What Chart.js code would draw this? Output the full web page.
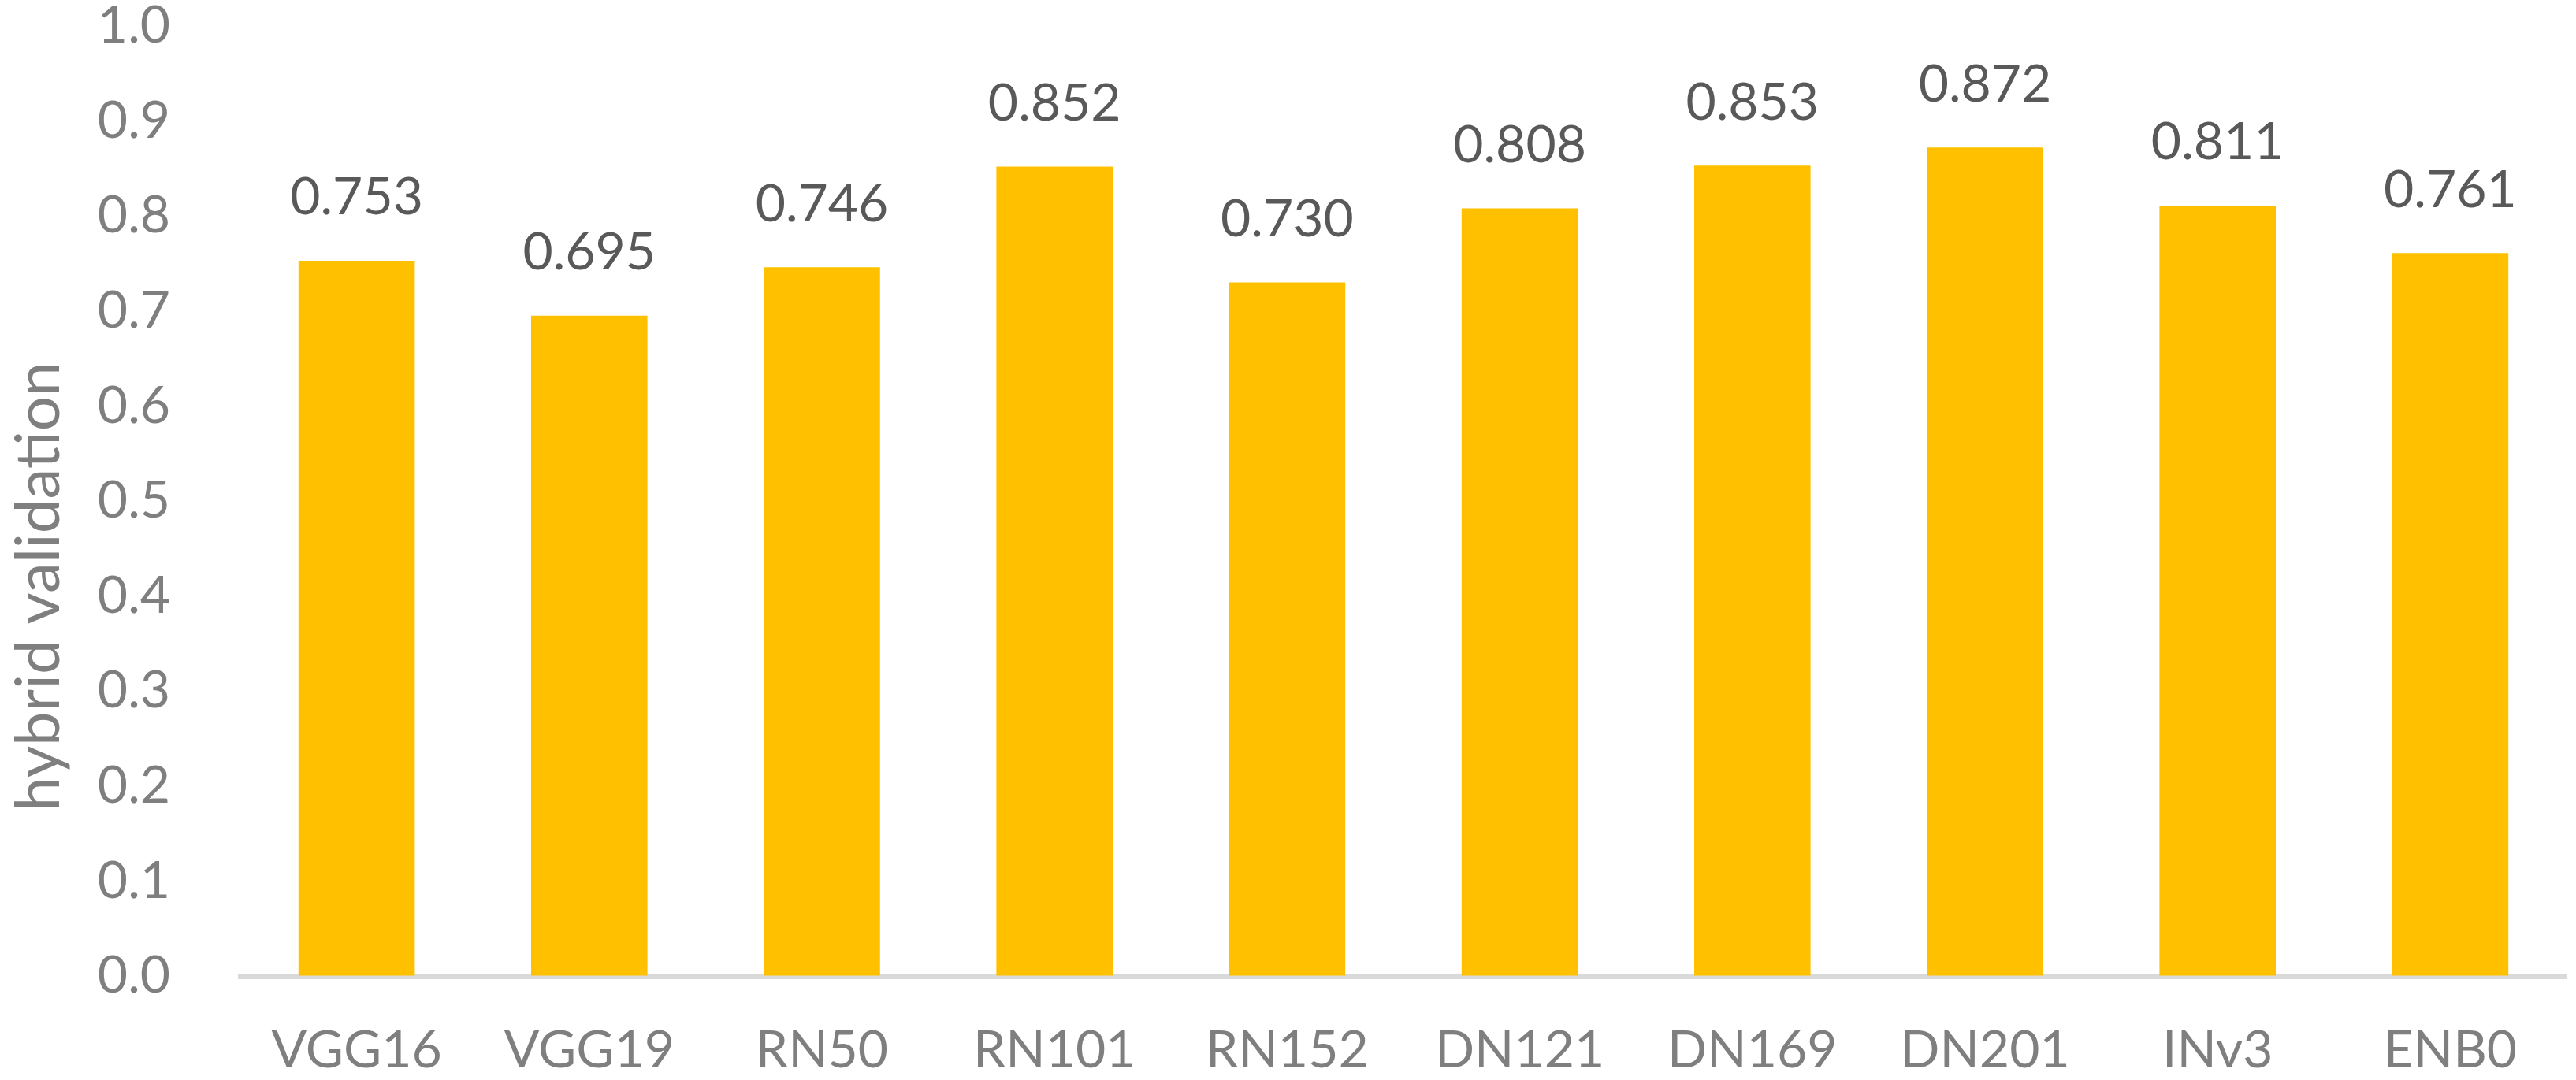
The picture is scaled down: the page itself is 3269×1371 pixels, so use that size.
<!DOCTYPE html>
<html>
<head>
<meta charset="utf-8">
<script src="https://cdn.jsdelivr.net/npm/chart.js@4"></script>
<style>
  html, body { margin: 0; padding: 0; background: #ffffff; }
  #wrap { width: 3269px; height: 1371px; }
</style>
</head>
<body>
<div id="wrap"><canvas id="c" width="3269" height="1371"></canvas></div>
<script>
const categories = ["VGG16", "VGG19", "RN50", "RN101", "RN152", "DN121", "DN169", "DN201", "INv3", "ENB0"];
const hybridValidation = [0.753, 0.695, 0.746, 0.852, 0.730, 0.808, 0.853, 0.872, 0.811, 0.761];
const yAxisTitle = "hybrid validation";
const yMin = 0.0, yMax = 1.0, yStep = 0.1;

const FONT = "Lato, 'Open Sans', 'DejaVu Sans', sans-serif";

const valueLabels = {
  id: 'valueLabels',
  afterDatasetsDraw(chart) {
    const ctx = chart.ctx;
    const meta = chart.getDatasetMeta(0);
    ctx.save();
    ctx.font = "66px " + FONT;
    ctx.fillStyle = "#595959";
    ctx.textAlign = "center";
    ctx.textBaseline = "middle";
    meta.data.forEach((bar, i) => {
      ctx.fillText(hybridValidation[i].toFixed(3), bar.x, bar.y - 80);
    });
    ctx.restore();
  }
};

// Axis title, placed like the original (slightly below the axis centre)
const axisTitle = {
  id: 'axisTitle',
  afterDraw(chart) {
    const ctx = chart.ctx;
    const ys = chart.scales.y;
    const cy = ys.getPixelForValue(0.41);
    ctx.save();
    ctx.translate(75, cy);
    ctx.rotate(-Math.PI / 2);
    ctx.font = "78px " + FONT;
    ctx.fillStyle = "#7F7F7F";
    ctx.textAlign = "center";
    ctx.textBaseline = "alphabetic";
    ctx.fillText(yAxisTitle, 0, 0);
    ctx.restore();
  }
};

new Chart(document.getElementById('c'), {
  type: 'bar',
  data: {
    labels: categories,
    datasets: [{
      data: hybridValidation,
      backgroundColor: '#FFC000',
      borderWidth: 0,
      barPercentage: 1.0,
      categoryPercentage: 0.5
    }]
  },
  options: {
    responsive: false,
    animation: false,
    devicePixelRatio: 1,
    layout: { padding: { top: 33, right: 12, left: 0, bottom: 0 } },
    plugins: { legend: { display: false }, tooltip: { enabled: false } },
    scales: {
      x: {
        z: 1,
        grid: { display: false, drawTicks: false },
        border: { display: true, color: '#D9D9D9', width: 7 },
        ticks: {
          color: '#7F7F7F',
          font: { family: FONT, size: 66, lineHeight: 1.0 },
          padding: 62,
          maxRotation: 0,
          autoSkip: false
        },
        afterFit(scale) { scale.height = 132; }
      },
      y: {
        min: yMin,
        max: yMax,
        grid: {
          display: true,
          drawOnChartArea: false,
          drawTicks: true,
          tickLength: 89,
          color: 'rgba(0,0,0,0)'
        },
        border: { display: false },
        ticks: {
          stepSize: yStep,
          color: '#7F7F7F',
          font: { family: FONT, size: 66, lineHeight: 1.0 },
          padding: 0,
          callback: (v) => Number(v).toFixed(1)
        },
        title: { display: false },
        afterFit(scale) { scale.width = 305; }
      }
    }
  },
  plugins: [valueLabels, axisTitle]
});
</script>
</body>
</html>
